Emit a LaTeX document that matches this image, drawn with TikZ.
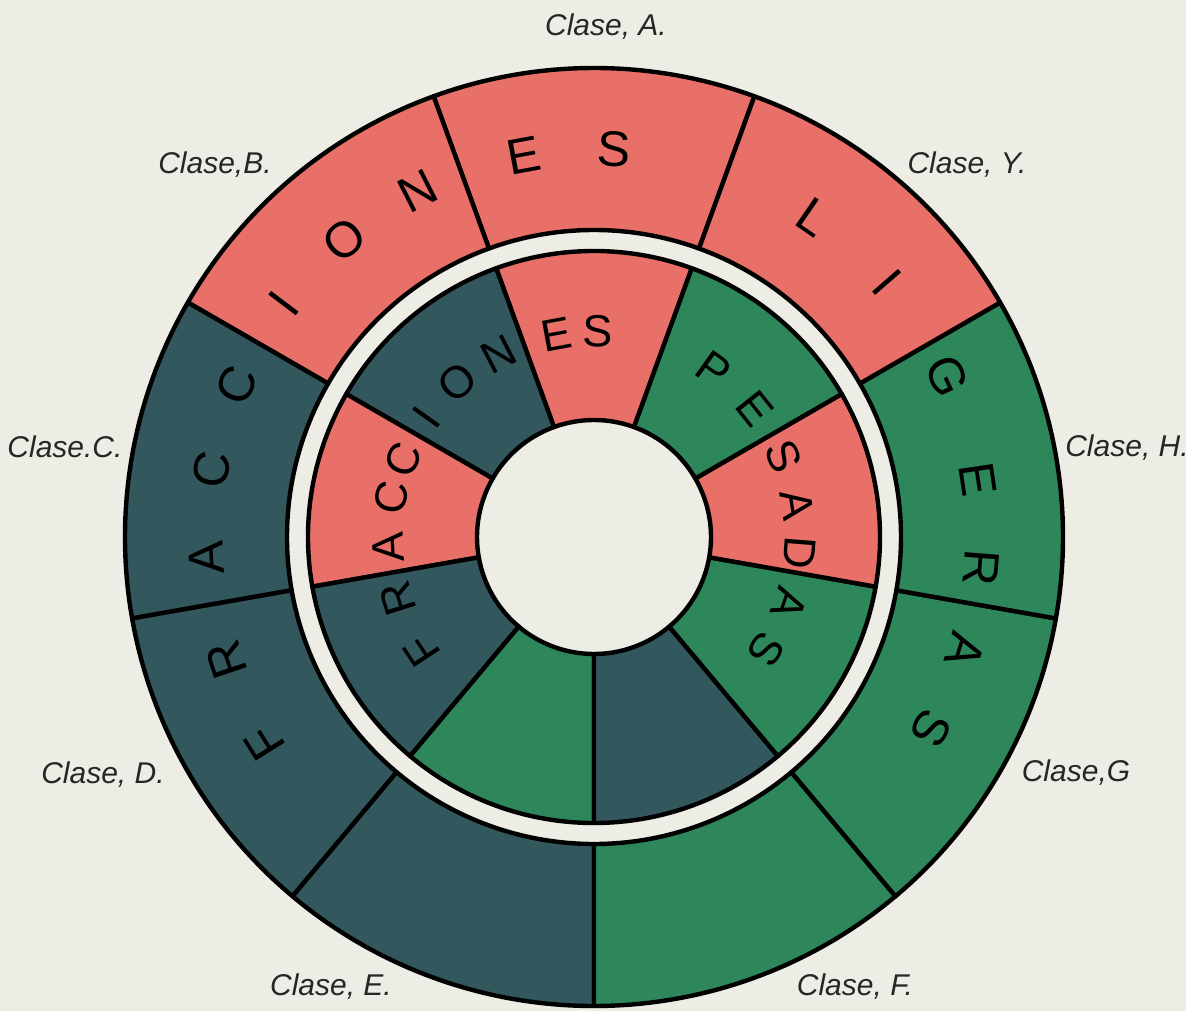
\documentclass[tikz,border=0pt]{standalone}
\usepackage{fontspec}
\setmainfont{Liberation Sans}
\definecolor{bgc}{RGB}{237,237,229}
\definecolor{redc}{RGB}{232,112,104}
\definecolor{slatec}{RGB}{50,88,94}
\definecolor{greenc}{RGB}{46,135,90}
\begin{document}
\begin{tikzpicture}[x=0.5pt,y=0.5pt,line join=round,
  seg/.style={line width=2.2pt,draw=black},
  bigletter/.style={font=\fontsize{25}{25}\selectfont,inner sep=0pt},
  smallletter/.style={font=\fontsize{22.5}{22.5}\selectfont,inner sep=0pt},
  classlabel/.style={font=\itshape\fontsize{15}{15}\selectfont,inner sep=0pt,text=black!85}]
\fill[bgc] (-594,-474) rectangle (592,537);
\useasboundingbox (-594,-474) rectangle (592,537);
% outer ring
\foreach \a/\c in {70/redc,110/redc,150/slatec,190/slatec,230/slatec,270/greenc,310/greenc,350/greenc,30/redc}{
  \pgfmathsetmacro\b{\a+40}
  \filldraw[seg,fill=\c] (\a:307) arc[start angle=\a,end angle=\b,radius=307] -- (\b:469) arc[start angle=\b,end angle=\a,radius=469] -- cycle;
}
% inner ring
\foreach \a/\c in {70/redc,110/slatec,150/redc,190/slatec,230/greenc,270/slatec,310/greenc,350/redc,30/greenc}{
  \pgfmathsetmacro\b{\a+40}
  \filldraw[seg,fill=\c] (\a:117) arc[start angle=\a,end angle=\b,radius=117] -- (\b:286) arc[start angle=\b,end angle=\a,radius=286] -- cycle;
}
% outer letters
\foreach \ch/\a [count=\i] in {F/212,R/198.5,A/183,C/170,C/157,I/143,O/130,N/117,E/100.5,S/87,L/55.5,I/41,G/24.5,E/8.5,R/-4.5,A/-17,S/-29.5}
  \node[bigletter,rotate=\a-90] (outer\i) at (\a:388) {\ch};
% inner letters
\foreach \ch/\a [count=\i] in {F/213.5,R/197.5,A/183,C/169,C/158,I/144.5,O/131.5,N/117.5,E/100.5,S/89,P/54.5,E/38.5,S/23,A/9,D/-4.5,A/-19,S/-33}
  \node[smallletter,rotate=\a-90] (inner\i) at (\a:206) {\ch};
% class labels
\node[classlabel] (labA) at (12,510) {Clase, A.};
\node[classlabel] (labB) at (-379,372) {Clase,B.};
\node[classlabel] (labY) at (373,372) {Clase, Y.};
\node[classlabel] (labC) at (-529,90) {Clase.C.};
\node[classlabel] (labH) at (533,89) {Clase, H.};
\node[classlabel] (labD) at (-491,-238) {Clase, D.};
\node[classlabel] (labG) at (482,-236) {Clase,G};
\node[classlabel] (labE) at (-263,-450) {Clase, E.};
\node[classlabel] (labF) at (261,-450) {Clase, F.};
\end{tikzpicture}
\end{document}
